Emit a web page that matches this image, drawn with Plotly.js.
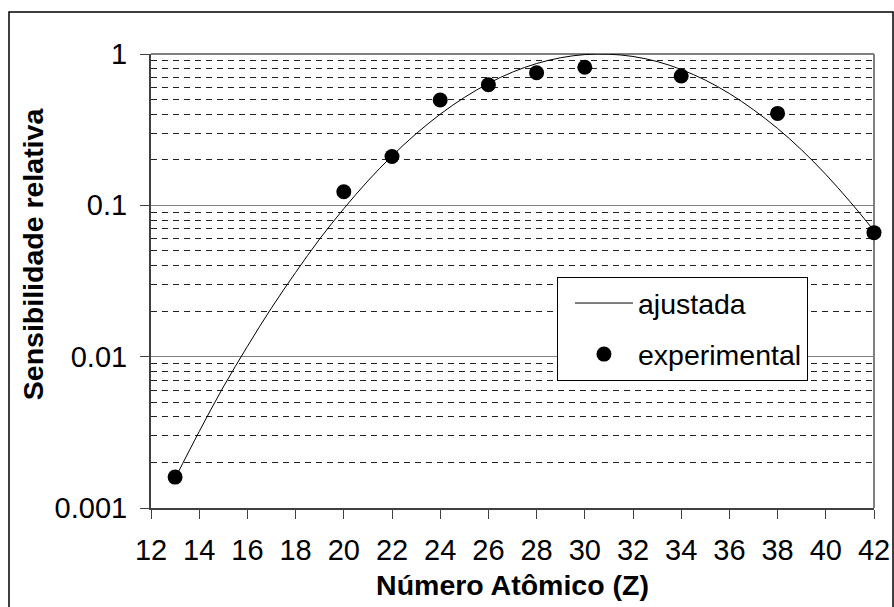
<!DOCTYPE html>
<html>
<head>
<meta charset="utf-8">
<script src="https://cdn.plot.ly/plotly-3.0.1.min.js"></script>
<style>
  html, body { margin: 0; padding: 0; background: #fff; }
  #chart { width: 894px; height: 607px; }
</style>
</head>
<body>
<div id="chart"></div>
<script>
// Experimental points
const expZ = [13, 20, 22, 24, 26, 28, 30, 34, 38, 42];
const expS = [0.0016, 0.123, 0.21, 0.497, 0.627, 0.752, 0.817, 0.716, 0.405, 0.066];

// Fitted curve
const fitZ = [13, 14, 15, 16, 17, 18, 19, 20, 21, 22, 23, 24, 25, 26, 27, 28, 29, 30, 31, 32, 33, 34, 35, 36, 37, 38, 39, 40, 41, 42];
const fitS = [0.00157, 0.0032, 0.0063, 0.0117, 0.021, 0.036, 0.060, 0.095, 0.145, 0.212, 0.297, 0.40, 0.516, 0.639, 0.759, 0.865, 0.945, 0.991, 0.997, 0.963, 0.892, 0.79, 0.672, 0.548, 0.428, 0.322, 0.232, 0.160, 0.106, 0.068];

const yTickVals = [0.001, 0.01, 0.1, 1];
const yTickText = ['0.001', '0.01', '0.1', '1'];

const seriesNames = ['ajustada', 'experimental'];
const xTitle = 'Número Atômico (Z)';
const yTitle = 'Sensibilidade relativa';

const FONT = '"Liberation Sans", Arial, sans-serif';

const traces = [
  {
    x: fitZ, y: fitS, type: 'scatter', mode: 'lines', name: seriesNames[0],
    line: { color: '#000', width: 1, shape: 'spline', smoothing: 1 },
    legendgroup: 'a', hoverinfo: 'skip'
  },
  {
    x: expZ, y: expS, type: 'scatter', mode: 'markers', name: seriesNames[1],
    marker: { color: '#000', size: 15, symbol: 'circle' },
    cliponaxis: false, legendgroup: 'b'
  }
];

const layout = {
  width: 894, height: 607,
  margin: { l: 151, r: 20, t: 54, b: 99 },
  paper_bgcolor: '#fff', plot_bgcolor: '#fff',
  font: { family: FONT, color: '#000', size: 29 },
  showlegend: true,
  legend: {
    x: 0.5615, y: 0.5088, xanchor: 'left', yanchor: 'top',
    bgcolor: '#fff', bordercolor: '#000', borderwidth: 1,
    font: { family: FONT, size: 28.5, color: '#000' },
    traceorder: 'grouped', tracegroupgap: 11, itemwidth: 58, indentation: 12
  },
  xaxis: {
    range: [12, 42], dtick: 2, tick0: 12,
    showgrid: false, zeroline: false,
    showline: true, linecolor: '#404040', linewidth: 2,
    ticks: 'outside', ticklen: 9, tickwidth: 1, tickcolor: '#404040',
    tickfont: { family: FONT, size: 29 }, ticklabelstandoff: 6,
    layer: 'below traces',
    title: { text: xTitle, font: { family: FONT, size: 28.5, weight: 'bold' }, standoff: 10 }
  },
  yaxis: {
    type: 'log', range: [-3, 0],
    tickmode: 'array', tickvals: yTickVals, ticktext: yTickText,
    showgrid: true, gridcolor: '#808080', gridwidth: 1.5,
    zeroline: false,
    showline: true, linecolor: '#404040', linewidth: 2,
    ticks: 'outside', ticklen: 9, tickwidth: 1, tickcolor: '#404040',
    tickfont: { family: FONT, size: 29 }, ticklabelstandoff: 7,
    layer: 'below traces',
    minor: { dtick: 'D1', showgrid: true, gridcolor: '#222', gridwidth: 1, griddash: '6px,5px', ticks: '' }
  },
  annotations: [
    { text: yTitle, textangle: -90, xref: 'paper', yref: 'paper', x: -0.1632, y: 0.559,
      xanchor: 'center', yanchor: 'middle', showarrow: false,
      font: { family: FONT, size: 28.5, weight: 'bold', color: '#000' } }
  ],
  shapes: [
    // outer chart frame
    { type: 'rect', xref: 'paper', yref: 'paper', x0: -0.1964, x1: 1.0263, y0: -0.23, y1: 1.0925,
      line: { color: '#000', width: 1.5 }, fillcolor: 'rgba(0,0,0,0)', layer: 'below' },
    // plot-area border top and right
    { type: 'line', xref: 'paper', yref: 'paper', x0: 0, x1: 1, y0: 1, y1: 1,
      line: { color: '#808080', width: 2 }, layer: 'below' },
    { type: 'line', xref: 'paper', yref: 'paper', x0: 1, x1: 1, y0: 0, y1: 1,
      line: { color: '#808080', width: 2 }, layer: 'below' }
  ]
};

Plotly.newPlot('chart', traces, layout, { displayModeBar: false, staticPlot: true });
</script>
</body>
</html>
